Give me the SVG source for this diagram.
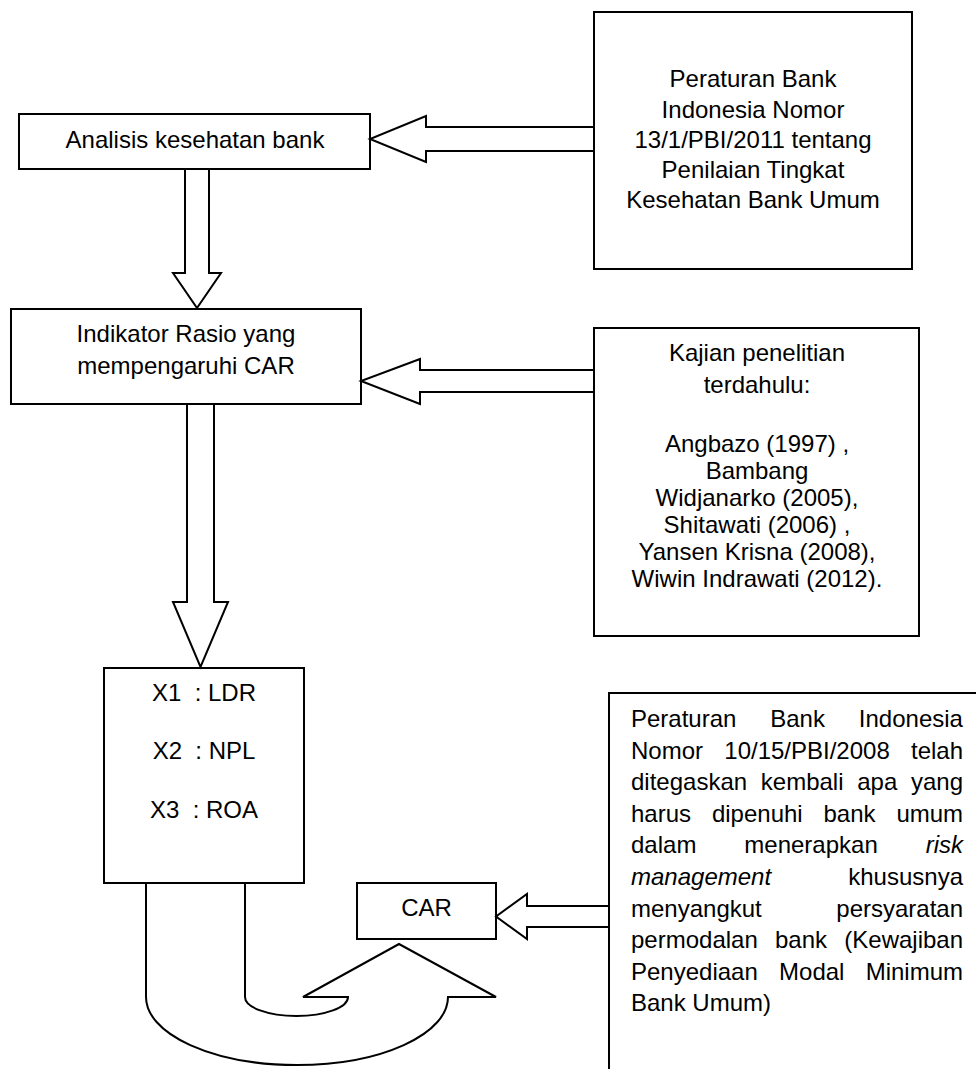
<svg xmlns="http://www.w3.org/2000/svg" width="976" height="1069" viewBox="0 0 976 1069">
  <style>
    .box { fill: #fff; stroke: #000; stroke-width: 2; }
    .conn { fill: none; stroke: #000; stroke-width: 2; stroke-linejoin: miter; }
    .t { font-family: "Liberation Sans", Arial, sans-serif; font-size: 24px; fill: #000; }
    .c { text-anchor: middle; }
    .pre { white-space: pre; }
    .i { font-style: italic; }
  </style>
  <rect width="976" height="1069" fill="#fff"/>

  <g id="n-analisis">
    <rect class="box" x="19" y="114" width="351" height="55"/>
    <text class="t c" x="195" y="148">Analisis kesehatan bank</text>
  </g>

  <g id="n-pbi-2011">
    <rect class="box" x="594" y="12" width="318" height="257"/>
    <text class="t c" x="753" y="87">Peraturan Bank</text>
    <text class="t c" x="753" y="117.5">Indonesia Nomor</text>
    <text class="t c" x="753" y="148">13/1/PBI/2011 tentang</text>
    <text class="t c" x="753" y="178">Penilaian Tingkat</text>
    <text class="t c" x="753" y="208">Kesehatan Bank Umum</text>
  </g>

  <g id="n-indikator">
    <rect class="box" x="11" y="309" width="350" height="95"/>
    <text class="t c" x="186" y="341.5">Indikator Rasio yang</text>
    <text class="t c" x="186" y="373.5">mempengaruhi CAR</text>
  </g>

  <g id="n-kajian">
    <rect class="box" x="594" y="328" width="325" height="308"/>
    <text class="t c" x="757" y="361">Kajian penelitian</text>
    <text class="t c" x="757" y="393">terdahulu:</text>
    <text class="t c" x="757" y="452">Angbazo (1997) ,</text>
    <text class="t c" x="757" y="479">Bambang</text>
    <text class="t c" x="757" y="506">Widjanarko (2005),</text>
    <text class="t c" x="757" y="533">Shitawati (2006) ,</text>
    <text class="t c" x="757" y="560">Yansen Krisna (2008),</text>
    <text class="t c" x="757" y="587">Wiwin Indrawati (2012).</text>
  </g>

  <g id="n-variabel">
    <rect class="box" x="104" y="668" width="200" height="215"/>
    <text class="t c pre" x="204" y="701">X1  : LDR</text>
    <text class="t c pre" x="204" y="759">X2  : NPL</text>
    <text class="t c pre" x="204" y="818">X3  : ROA</text>
  </g>

  <g id="n-car">
    <rect class="box" x="357" y="883" width="139" height="56"/>
    <text class="t c" x="426.5" y="916">CAR</text>
  </g>

  <g id="n-pbi-2008">
    <rect class="box" x="609" y="693" width="400" height="400"/>
    <text class="t" x="631" y="727" word-spacing="27.2">Peraturan Bank Indonesia</text>
    <text class="t" x="631" y="758.6" word-spacing="14.6">Nomor 10/15/PBI/2008 telah</text>
    <text class="t" x="631" y="790.2" word-spacing="7.06">ditegaskan kembali apa yang</text>
    <text class="t" x="631" y="821.8" word-spacing="14.2">harus dipenuhi bank umum</text>
    <text class="t" x="631" y="853.4" word-spacing="41.3">dalam menerapkan <tspan class="i">risk</tspan></text>
    <text class="t" x="631" y="885" word-spacing="70.5"><tspan class="i">management</tspan> khususnya</text>
    <text class="t" x="631" y="916.6" word-spacing="67.9">menyangkut persyaratan</text>
    <text class="t" x="631" y="948.2" word-spacing="10.6">permodalan bank (Kewajiban</text>
    <text class="t" x="631" y="979.8" word-spacing="14.6">Penyediaan Modal Minimum</text>
    <text class="t" x="631" y="1011.4">Bank Umum)</text>
  </g>

  <g id="connectors">
    <polyline class="conn" points="594,127 426,127 426,116 370,139 426,162 426,151 594,151"/>
    <polyline class="conn" points="185,169 185,273 173,273 197,308 221,273 209,273 209,169"/>
    <polyline class="conn" points="594,370 420,370 420,359 361,381 420,404 420,392 594,392"/>
    <polyline class="conn" points="187,404 187,602 173,602 200.5,667 228,602 214,602 214,404"/>
    <polyline class="conn" points="609,906 527,906 527,894 496,916.5 527,939 527,927 609,927"/>
    <path class="conn" d="M146,883 L146,997 A151,68 0 0 0 448,997 L496,997 L399,944 L303,997 L348,997 A51.5,19 0 0 1 245,997 L245,883"/>
  </g>
</svg>
